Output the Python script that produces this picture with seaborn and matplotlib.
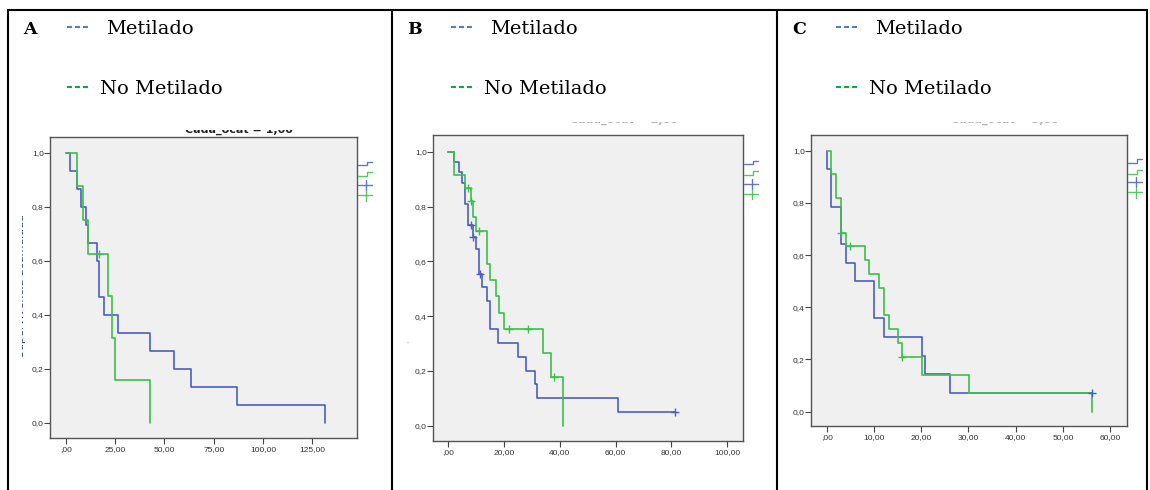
import numpy as np
import pandas as pd
import matplotlib
matplotlib.use("Agg")
import matplotlib.pyplot as plt
import seaborn as sns
from matplotlib.lines import Line2D
from matplotlib.patches import Rectangle

# ---------------- data (Kaplan-Meier step curves) ----------------
# Panel A
a_met_t = [0, 1.9, 5.6, 7.8, 10.0, 11.5, 15.7, 16.7, 19.6, 26.7, 42.9, 54.7, 63.7, 86.7, 131.6]
a_met_s = [1.0, .933, .867, .800, .733, .667, .600, .467, .400, .333, .267, .200, .133, .067, 0.0]
a_nomet_t = [0, 5.7, 8.8, 11.5, 21.6, 23.5, 24.8, 42.7]
a_nomet_s = [1.0, .875, .750, .625, .469, .3125, .156, 0.0]
a_met_cens_t, a_met_cens_s = [], []
a_nomet_cens_t, a_nomet_cens_s = [16.6], [.625]

# Panel B
b_met_t = [0, 2.0, 4.0, 5.0, 6.0, 7.0, 9.0, 10.0, 11.0, 12.1, 14.0, 14.9, 18.0, 25.0, 28.0, 31.0, 31.9, 61.0, 81.2]
b_met_s = [1.0, .963, .927, .887, .809, .731, .690, .644, .552, .505, .454, .352, .300, .252, .201, .151, .101, .050, .050]
b_nomet_t = [0, 2.0, 6.0, 8.1, 9.0, 10.0, 14.0, 15.1, 17.1, 18.1, 19.9, 33.9, 36.9, 41.0]
b_nomet_s = [1.0, .914, .866, .819, .763, .709, .590, .530, .472, .412, .354, .265, .176, 0.0]
b_met_cens_t, b_met_cens_s = [8.1, 8.8, 11.3, 81.2], [.731, .690, .552, .050]
b_nomet_cens_t, b_nomet_cens_s = [7.0, 8.1, 11.0, 22.0, 28.8, 37.9], [.866, .819, .709, .354, .354, .176]

# Panel C
c_met_t = [0, 0.1, 1.0, 3.0, 4.0, 6.0, 10.1, 12.1, 20.1, 20.9, 26.0, 56.1]
c_met_s = [1.0, .929, .786, .643, .571, .500, .357, .286, .214, .143, .071, .071]
c_nomet_t = [0, 1.0, 2.0, 3.0, 4.0, 8.0, 9.0, 11.1, 12.1, 13.1, 15.0, 16.0, 20.1, 30.1, 56.1]
c_nomet_s = [1.0, .912, .820, .683, .635, .581, .529, .475, .370, .317, .264, .211, .140, .070, 0.0]
c_met_cens_t, c_met_cens_s = [56.1], [.071]
c_nomet_cens_t, c_nomet_cens_s = [3.0, 4.9, 16.0], [.683, .635, .211]

panel_letters = ["A", "B", "C"]
legend_labels = ["Metilado", "No Metilado"]
titles = ["Cada_ocat = 1,00", "Cada_ocat = 2,00", "Cada_ocat = 3,00"]
ylabel = "Supervivencia acumulada"

a_xticks = [0, 25, 50, 75, 100, 125]
a_xlabels = [",00", "25,00", "50,00", "75,00", "100,00", "125,00"]
b_xticks = [0, 20, 40, 60, 80, 100]
b_xlabels = [",00", "20,00", "40,00", "60,00", "80,00", "100,00"]
c_xticks = [0, 10, 20, 30, 40, 50, 60]
c_xlabels = [",00", "10,00", "20,00", "30,00", "40,00", "50,00", "60,00"]
yticks = [0.0, 0.2, 0.4, 0.6, 0.8, 1.0]
ylabels = ["0,0", "0,2", "0,4", "0,6", "0,8", "1,0"]

# ---------------- styling ----------------
W, H = 1150, 490
sns.set_theme(style="white")
plt.rcParams['font.family'] = ['DejaVu Sans']

BLUE = "#4c5fc0"
GREEN = "#3dbf4c"
HDR_BLUE = "#4f81bd"
HDR_GREEN = "#00b050"
BG = "#f0f0f0"

fig = plt.figure(figsize=(W / 100, H / 100), dpi=100)
fig.patch.set_facecolor("white")


def fx(x):
    return x / W


def fy(y):
    return 1 - y / H


def fig_line(xs, ys, **kw):
    fig.add_artist(Line2D([fx(v) for v in xs], [fy(v) for v in ys], transform=fig.transFigure, **kw))


def white_box(x0, y0, x1, y1):
    fig.add_artist(Rectangle((fx(x0), fy(y1)), (x1 - x0) / W, (y1 - y0) / H,
                             transform=fig.transFigure, facecolor="white", edgecolor="none", zorder=4))


# outer table borders
border_x = [8, 392, 777, 1147]
fig_line([8, 1147], [10, 10], color="black", lw=1.5, zorder=6)
for bx in border_x:
    fig_line([bx, bx], [10, 490], color="black", lw=1.5, zorder=6)

panels = [
    dict(box=(50, 137, 357, 438), xlim=(-8.0, 147.6), ylim=(-0.057, 1.058),
         xt=a_xticks, xl=a_xlabels,
         met=(a_met_t, a_met_s), nomet=(a_nomet_t, a_nomet_s),
         mc=(a_met_cens_t, a_met_cens_s), nc=(a_nomet_cens_t, a_nomet_cens_s),
         off=8, title_x=239, title_cut=129.8, title_base=132.5, title_col="#222222",
         leg=(358, 163.5, 174.5)),
    dict(box=(433, 135, 743, 441), xlim=(-5.36, 105.6), ylim=(-0.056, 1.061),
         xt=b_xticks, xl=b_xlabels,
         met=(b_met_t, b_met_s), nomet=(b_nomet_t, b_nomet_s),
         mc=(b_met_cens_t, b_met_cens_s), nc=(b_nomet_cens_t, b_nomet_cens_s),
         off=392, title_x=624, title_cut=121.6, title_base=122.3, title_col="#b4b4b4",
         leg=(744, 162.5, 173.5)),
    dict(box=(811, 135, 1127, 426), xlim=(-3.33, 63.56), ylim=(-0.055, 1.06),
         xt=c_xticks, xl=c_xlabels,
         met=(c_met_t, c_met_s), nomet=(c_nomet_t, c_nomet_s),
         mc=(c_met_cens_t, c_met_cens_s), nc=(c_nomet_cens_t, c_nomet_cens_s),
         off=777, title_x=1005, title_cut=121.6, title_base=122.3, title_col="#b4b4b4",
         leg=(1128, 161.5, 171.5)),
]

for i, p in enumerate(panels):
    l, t, r, b = p["box"]
    ax = fig.add_axes([fx(l), fy(b), (r - l) / W, (b - t) / H])
    ax.set_facecolor(BG)
    for (tt, ss), col in ((p["met"], BLUE), (p["nomet"], GREEN)):
        df = pd.DataFrame({"t": tt, "s": ss})
        sns.lineplot(data=df, x="t", y="s", drawstyle="steps-post", estimator=None,
                     sort=False, color=col, lw=1.2, ax=ax, legend=False)
    for (ct, cs), col in ((p["mc"], BLUE), (p["nc"], GREEN)):
        if len(ct):
            sns.scatterplot(x=ct, y=cs, marker="+", s=28, color=col, linewidth=1.0,
                            ax=ax, legend=False, zorder=5)
    ax.set_xlim(*p["xlim"])
    ax.set_ylim(*p["ylim"])
    ax.set_xticks(p["xt"])
    ax.set_xticklabels(p["xl"], fontsize=6, family="Liberation Sans", color="#333333")
    ax.set_yticks(yticks)
    ax.set_yticklabels(ylabels, fontsize=6, family="Liberation Sans", color="#333333")
    ax.tick_params(axis="y", left=True, direction="out", length=4, width=0.8, color="#444444", pad=0.5)
    ax.tick_params(axis="x", bottom=True, direction="out", length=4, width=0.8, color="#444444", pad=2)
    ax.set_xlabel("")
    ax.set_ylabel("")
    for sp in ax.spines.values():
        sp.set_visible(True)
        sp.set_color("#555555")
        sp.set_linewidth(1.0)

    # title above the plot, mostly cut off (only its lower edge shows)
    fig.text(fx(p["title_x"]), fy(p["title_base"]), titles[i], ha="center", va="baseline",
             fontsize=8, fontweight="bold", color=p["title_col"], zorder=3)
    white_box(p["title_x"] - 90, 100, p["title_x"] + 90, p["title_cut"])

    # cut-off legend glyphs at the right of the chart
    lx, yb, yg = p["leg"]
    fig_line([lx, lx + 9, lx + 9, lx + 14], [yb + 2, yb + 2, yb - 2, yb - 2], color=BLUE, lw=1.0, alpha=0.85)
    fig_line([lx, lx + 9, lx + 9, lx + 14], [yg + 2, yg + 2, yg - 2, yg - 2], color=GREEN, lw=1.0, alpha=0.85)
    yc1, yc2 = yg + 10.5, yg + 21
    fig_line([lx, lx + 14], [yc1, yc1], color=BLUE, lw=1.0, alpha=0.85)
    fig_line([lx + 8, lx + 8], [yc1 - 5, yc1 + 5], color=BLUE, lw=1.0, alpha=0.85)
    fig_line([lx, lx + 14], [yc2, yc2], color=GREEN, lw=1.0, alpha=0.85)
    fig_line([lx + 8, lx + 8], [yc2 - 5, yc2 + 5], color=GREEN, lw=1.0, alpha=0.85)

    # header: letter, coloured dashes and legend text
    off = p["off"]
    fig.text(fx(off + 15), fy(33.5), panel_letters[i], ha="left", va="baseline",
             fontsize=12.5, fontweight="bold", family="DejaVu Serif", color="black")
    for k in range(3):
        d0 = off + 58.5 + k * 8
        fig_line([d0, d0 + 5.3], [26.7, 26.7], color=HDR_BLUE, lw=1.5, solid_capstyle="butt")
        fig_line([d0, d0 + 5.3], [87.3, 87.3], color=HDR_GREEN, lw=1.5, solid_capstyle="butt")
    fig.text(fx(off + 98), fy(34.5), legend_labels[0], ha="left", va="baseline",
             fontsize=14, family="DejaVu Serif", color="black")
    fig.text(fx(off + 92), fy(93.5), legend_labels[1], ha="left", va="baseline",
             fontsize=14, family="DejaVu Serif", color="black")

# y-axis labels, cut off so that only a thin sliver remains
fig.text(fx(24), fy(285.5), ylabel, rotation=90, rotation_mode="anchor", ha="center", va="baseline",
         fontsize=7.9, color="#1f3864", zorder=3)
white_box(9.5, 150, 22, 420)
fig.text(fx(408.5), fy(285.5), ylabel, rotation=90, rotation_mode="anchor", ha="center", va="baseline",
         fontsize=7.9, color="#cfe8ec", zorder=3)
white_box(393.5, 150, 406.5, 420)

fig.savefig("out.png", dpi=100, facecolor="white")
